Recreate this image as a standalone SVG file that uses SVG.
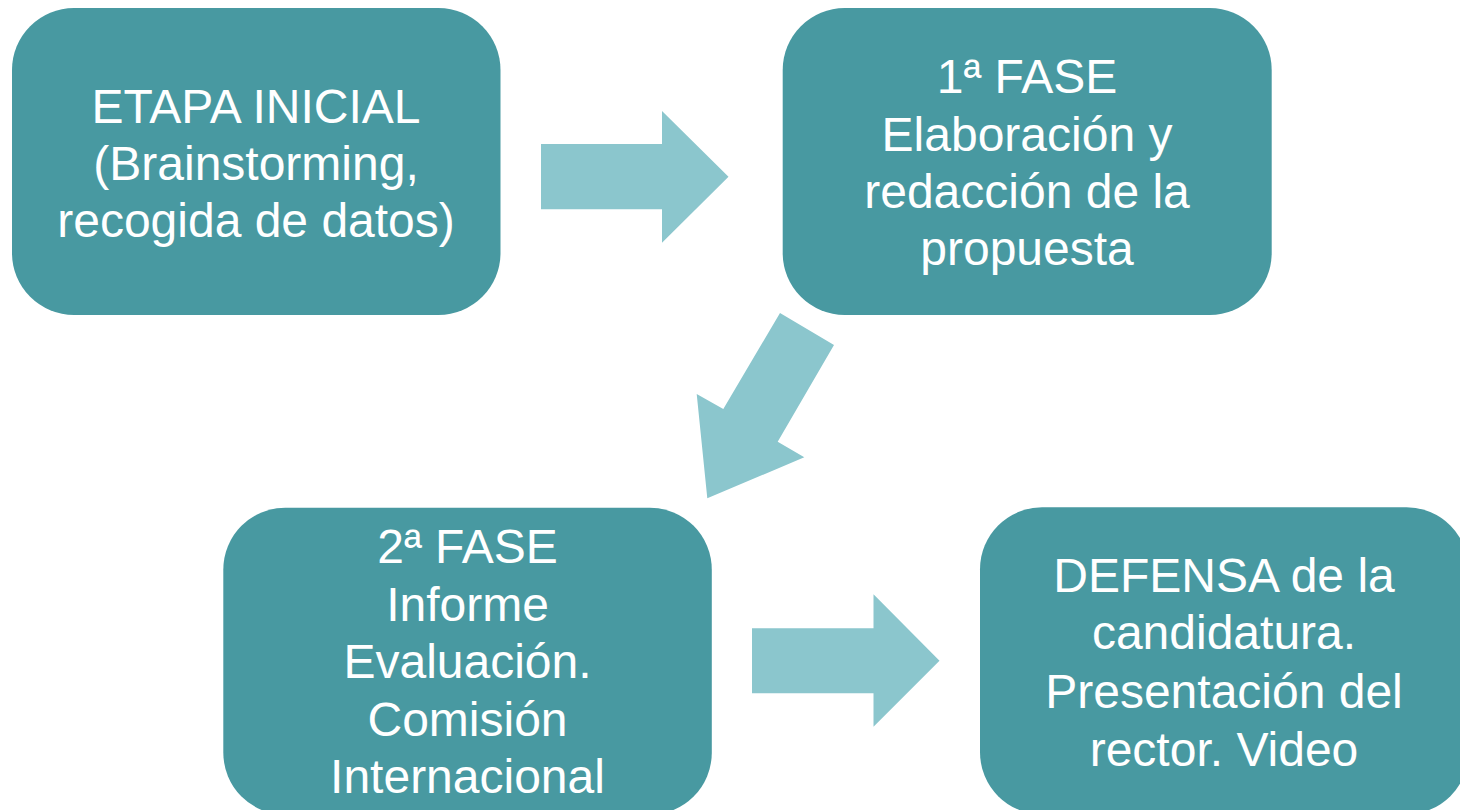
<svg xmlns="http://www.w3.org/2000/svg" width="1460" height="810" viewBox="0 0 1460 810">
<style>
.box{fill:#4899A1}
.arr{fill:#8BC6CD}
.t{font-family:"Liberation Sans",Arial,sans-serif;font-size:48px;fill:#ffffff;text-anchor:middle}
</style>
<rect x="0" y="0" width="1460" height="810" fill="#ffffff"/>
<g id="connectors">
<polygon class="arr" points="541,144 662,144 662,111 728.5,176.8 662,242.7 662,209.3 541,209.3"/>
<polygon class="arr" points="780,313 834,345 777.7,441.7 804.3,457.3 707.3,498.3 696.7,394 723.3,409"/>
<polygon class="arr" points="752,628.3 873.5,628.3 873.5,594.3 939.5,660.7 873.5,726.7 873.5,693.3 752,693.3"/>
</g>
<g id="node-etapa-inicial">
<rect class="box" x="12" y="8" width="488.5" height="307" rx="62" ry="62"/>
<text class="t"><tspan x="256" y="122.7">ETAPA INICIAL</tspan><tspan x="256" y="180">(Brainstorming,</tspan><tspan x="256" y="237">recogida de datos)</tspan></text>
</g>
<g id="node-1-fase">
<rect class="box" x="782.7" y="8" width="489" height="307" rx="62" ry="62"/>
<text class="t"><tspan x="1027" y="93.3">1ª FASE</tspan><tspan x="1027" y="151">Elaboración y</tspan><tspan x="1027" y="208.3">redacción de la</tspan><tspan x="1027" y="265.3">propuesta</tspan></text>
</g>
<g id="node-2-fase">
<rect class="box" x="223.3" y="507.7" width="488.5" height="307" rx="62" ry="62"/>
<text class="t"><tspan x="467.5" y="563.3">2ª FASE</tspan><tspan x="467.5" y="621">Informe</tspan><tspan x="467.5" y="678.3">Evaluación.</tspan><tspan x="467.5" y="736">Comisión</tspan><tspan x="467.5" y="793.3">Internacional</tspan></text>
</g>
<g id="node-defensa">
<rect class="box" x="980" y="507.3" width="488.5" height="307" rx="62" ry="62"/>
<text class="t"><tspan x="1224" y="591.7">DEFENSA de la</tspan><tspan x="1224" y="649.3">candidatura.</tspan><tspan x="1224" y="707.5">Presentación del</tspan><tspan x="1224" y="766">rector. Video</tspan></text>
</g>
</svg>
